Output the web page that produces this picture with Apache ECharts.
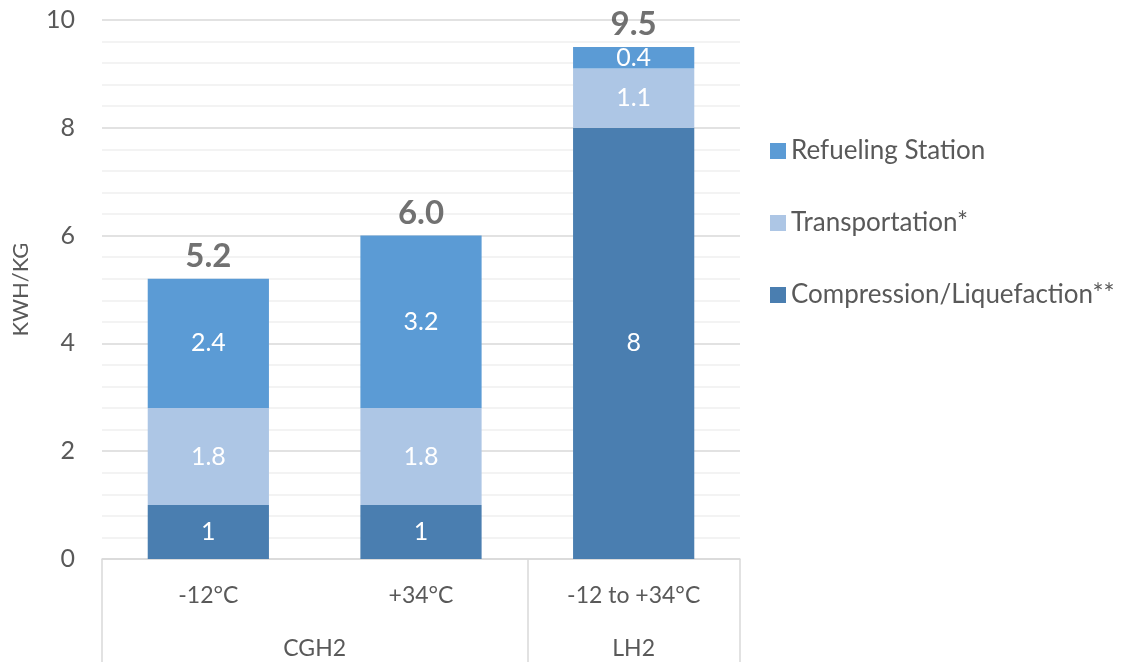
<!DOCTYPE html>
<html>
<head>
<meta charset="utf-8">
<script src="https://cdn.jsdelivr.net/npm/echarts@6/dist/echarts.min.js"></script>
<style>
  html, body { margin: 0; padding: 0; background: #fff; }
  #chart { width: 1121px; height: 662px; }
</style>
</head>
<body>
<div id="chart"></div>
<script>
// Energy demand per kg of hydrogen, split by supply-chain stage
const categories = ['-12°C', '+34°C', '-12 to +34°C'];
const groups = ['CGH2', 'LH2'];
const compression = [1, 1, 8];
const transportation = [1.8, 1.8, 1.1];
const refueling = [2.4, 3.2, 0.4];
const yTicks = [0, 2, 4, 6, 8, 10];

const totals = categories.map((_, i) => compression[i] + transportation[i] + refueling[i]);

const FONT = 'Lato, "Open Sans", sans-serif';
const TEXT = '#595959';

const chart = echarts.init(document.getElementById('chart'), null, { renderer: 'canvas' });

const inner = {
  show: true,
  position: 'inside',
  color: '#fff',
  fontSize: 25,
  fontFamily: FONT
};

chart.setOption({
  animation: false,
  backgroundColor: '#fff',
  grid: {
    left: 102, right: 381, top: 20, bottom: 103,
    containLabel: false,
    outerBoundsMode: 'none'
  },
  legend: {
    orient: 'vertical',
    left: 765,
    top: 133,
    itemGap: 46,
    itemWidth: 16,
    itemHeight: 16,
    icon: 'rect',
    data: ['Refueling Station', 'Transportation*', 'Compression/Liquefaction**'],
    textStyle: { color: TEXT, fontSize: 26, fontFamily: FONT }
  },
  xAxis: [
    {
      type: 'category',
      data: categories,
      position: 'bottom',
      axisLine: { show: true, lineStyle: { color: '#d9d9d9', width: 1.5 } },
      axisTick: { show: false },
      axisLabel: { color: TEXT, fontSize: 23, fontFamily: FONT, margin: 25 }
    },
    {
      // group row below the category labels
      type: 'value',
      min: 0,
      max: 3,
      position: 'bottom',
      axisLine: { show: false },
      splitLine: { show: false },
      axisTick: {
        show: true,
        length: 105,
        customValues: [0, 2, 3],
        lineStyle: { color: '#d9d9d9', width: 1.5 }
      },
      axisLabel: {
        show: true,
        customValues: [1, 2.5],
        formatter: v => (v < 2 ? groups[0] : groups[1]),
        color: TEXT,
        fontSize: 23,
        fontFamily: FONT,
        margin: 78
      }
    }
  ],
  yAxis: {
    type: 'value',
    min: 0,
    max: 10,
    interval: 2,
    name: 'KWH/KG',
    nameLocation: 'middle',
    nameGap: 70,
    nameTextStyle: { color: TEXT, fontSize: 22, fontFamily: FONT },
    axisLine: { show: false },
    axisTick: { show: false },
    axisLabel: {
      color: TEXT, fontSize: 25, fontFamily: FONT, margin: 27,
      formatter: v => (yTicks.includes(v) ? String(v) : '')
    },
    splitLine: { show: true, lineStyle: { color: '#d9d9d9', width: 1.5 } },
    minorTick: { show: false, splitNumber: 5 },
    minorSplitLine: { show: true, lineStyle: { color: '#efefef', width: 1.5 } }
  },
  series: [
    {
      name: 'Compression/Liquefaction**',
      type: 'bar',
      stack: 'total',
      barWidth: '57%',
      data: compression,
      itemStyle: { color: '#4a7eb0' },
      label: inner
    },
    {
      name: 'Transportation*',
      type: 'bar',
      stack: 'total',
      data: transportation,
      itemStyle: { color: '#adc6e5' },
      label: inner
    },
    {
      name: 'Refueling Station',
      type: 'bar',
      stack: 'total',
      data: refueling,
      itemStyle: { color: '#5b9bd5' },
      label: inner
    },
    {
      name: 'Total',
      type: 'scatter',
      data: totals,
      symbolSize: 0,
      silent: true,
      label: {
        show: true,
        position: 'top',
        distance: 6,
        formatter: p => p.value.toFixed(1),
        color: '#4d4d4d',
        fontSize: 33,
        fontWeight: 'bold',
        fontFamily: FONT
      }
    }
  ]
});
</script>
</body>
</html>
